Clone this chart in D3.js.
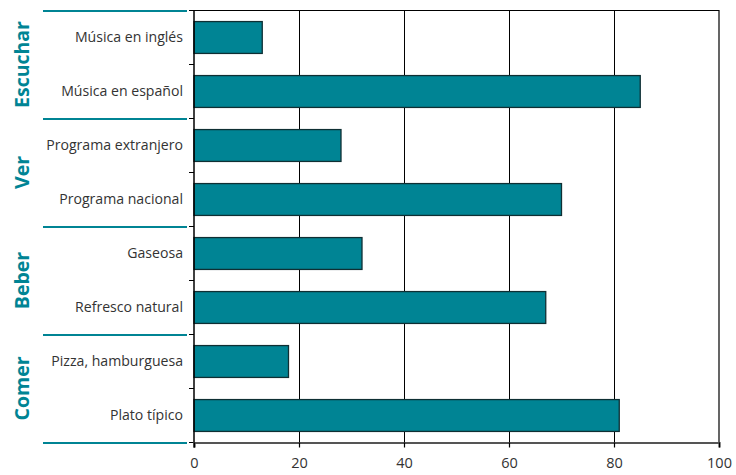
<!DOCTYPE html>
<html>
<head>
<meta charset="utf-8">
<script src="https://cdn.jsdelivr.net/npm/d3@7"></script>
<style>
  html, body { margin: 0; padding: 0; background: #fff; }
  svg { display: block; }
  text { font-family: "Open Sans", "Noto Sans", sans-serif; }
</style>
</head>
<body>
<script>
// Activity groups, the items within each, and the share for each item
const groups = ["Escuchar", "Ver", "Beber", "Comer"];
const categories = [
  "Música en inglés", "Música en español",
  "Programa extranjero", "Programa nacional",
  "Gaseosa", "Refresco natural",
  "Pizza, hamburguesa", "Plato típico"
];
const categoryGroup = ["Escuchar", "Escuchar", "Ver", "Ver", "Beber", "Beber", "Comer", "Comer"];
const values = [13, 85, 28, 70, 32, 67, 18, 81];
const xTicks = [0, 20, 40, 60, 80, 100];

const W = 736, H = 475;
const plot = { left: 194, right: 719, top: 10.5, bottom: 442.5 };
const teal = "#008494";

const svg = d3.select("body").append("svg").attr("width", W).attr("height", H);

const x = d3.scaleLinear().domain([0, 100]).range([plot.left, plot.right]);
const y = d3.scaleBand().domain(categories).range([plot.top, plot.bottom])
  .paddingInner(0.41).paddingOuter(0.205);
const step = y.step();

// vertical gridlines
svg.append("g").selectAll("line").data(xTicks.filter(t => t > 0 && t < 100)).join("line")
  .attr("x1", d => Math.round(x(d)) + 0.5).attr("x2", d => Math.round(x(d)) + 0.5)
  .attr("y1", plot.top).attr("y2", plot.bottom)
  .attr("stroke", "#000").attr("stroke-width", 1);

// frame: top and right edges
svg.append("path")
  .attr("d", `M${plot.left},${plot.top}H${plot.right}V${plot.bottom}`)
  .attr("fill", "none").attr("stroke", "#000").attr("stroke-width", 1.2);

// bars
svg.append("g").selectAll("rect").data(categories).join("rect")
  .attr("x", x(0))
  .attr("y", d => y(d))
  .attr("width", (d, i) => x(values[i]) - x(0))
  .attr("height", y.bandwidth())
  .attr("fill", teal)
  .attr("stroke", "#0f2f33").attr("stroke-width", 1.3);

// left axis with ticks on band boundaries
const bounds = d3.range(categories.length + 1).map(i => plot.top + i * step);
svg.append("line")
  .attr("x1", plot.left).attr("x2", plot.left)
  .attr("y1", plot.top).attr("y2", plot.bottom + 5)
  .attr("stroke", "#000").attr("stroke-width", 1.5);
svg.append("g").selectAll("line").data(bounds).join("line")
  .attr("x1", plot.left - 5).attr("x2", plot.left)
  .attr("y1", d => d).attr("y2", d => d)
  .attr("stroke", "#000").attr("stroke-width", 1);

// category labels
svg.append("g").selectAll("text").data(categories).join("text")
  .attr("x", plot.left - 11)
  .attr("y", d => y(d) + y.bandwidth() / 2)
  .attr("dy", "0.35em")
  .attr("text-anchor", "end")
  .attr("font-size", 14.1)
  .attr("fill", "#333")
  .text(d => d);

// bottom axis
const xAxis = d3.axisBottom(x).tickValues(xTicks).tickSize(5).tickPadding(10);
const gx = svg.append("g").attr("transform", `translate(0,${plot.bottom})`).call(xAxis);
gx.select(".domain").attr("stroke", "#555").attr("stroke-width", 2.2);
gx.selectAll(".tick line").attr("stroke", "#000").attr("stroke-width", 1.2);
gx.selectAll(".tick text")
  .attr("font-size", 14.5).attr("fill", "#333")
  .style("font-family", "'Open Sans', 'Noto Sans', sans-serif");

// group separators and rotated group titles
const groupRows = groups.map(g => categories.filter((c, i) => categoryGroup[i] === g));
const seps = d3.range(groups.length + 1).map(i => plot.top + i * 2 * step);
svg.append("g").selectAll("line").data(seps).join("line")
  .attr("x1", 43).attr("x2", 187)
  .attr("y1", d => d + 0.5).attr("y2", d => d + 0.5)
  .attr("stroke", teal).attr("stroke-width", 2.2);

svg.append("g").selectAll("text").data(groups).join("text")
  .attr("transform", (g, i) => {
    const rows = groupRows[i];
    const cy = (y(rows[0]) + y(rows[rows.length - 1]) + y.bandwidth()) / 2;
    return `translate(29,${cy}) rotate(-90)`;
  })
  .attr("text-anchor", "middle")
  .attr("font-size", 19.5)
  .attr("font-weight", 700)
  .attr("fill", teal)
  .text(d => d);
</script>
</body>
</html>
